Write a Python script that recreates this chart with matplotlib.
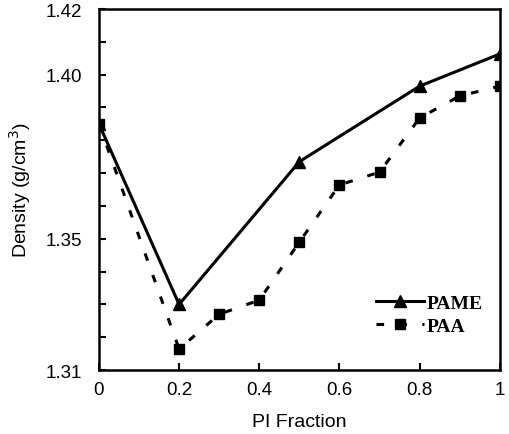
import matplotlib
matplotlib.use("Agg")
import matplotlib.pyplot as plt
from matplotlib.ticker import FixedLocator, FuncFormatter

# PI fraction vs. density, two polymer series
pi_frac_pame = [0.0, 0.2, 0.5, 0.8, 1.0]
dens_pame = [1.385, 1.330, 1.3735, 1.3965, 1.4063]

pi_frac_paa = [0.0, 0.2, 0.3, 0.4, 0.5, 0.6, 0.7, 0.8, 0.9, 1.0]
dens_paa = [1.385, 1.3164, 1.327, 1.3313, 1.349, 1.3664, 1.3703, 1.3868, 1.3935, 1.3965]

x_ticks = [0, 0.2, 0.4, 0.6, 0.8, 1.0]
x_ticklabels = ["0", "0.2", "0.4", "0.6", "0.8", "1"]
y_labelled = {1.31: "1.31", 1.35: "1.35", 1.40: "1.40", 1.42: "1.42"}

plt.rcParams.update({
    "font.family": "Liberation Sans", "font.size": 13.5,
})
fig = plt.figure(figsize=(5.1, 4.35), dpi=100)
ax = fig.add_axes([0.194, 0.147, 0.786, 0.830])

ax.plot(pi_frac_pame, dens_pame, color="black", lw=2.2, marker="^",
        markersize=9, label="PAME")
ax.plot(pi_frac_paa, dens_paa, color="black", lw=2.2, ls=(0, (2.5, 5)),
        marker="s", markersize=7, label="PAA")

ax.set_xlim(0, 1)
ax.set_ylim(1.31, 1.42)
ax.set_xticks(x_ticks)
ax.set_xticklabels(x_ticklabels)
yt = [round(1.31 + 0.01 * i, 2) for i in range(12)]
ax.yaxis.set_major_locator(FixedLocator(yt))
ax.yaxis.set_major_formatter(FuncFormatter(lambda v, p: y_labelled.get(round(v, 2), "")))
ax.tick_params(direction="in", length=5, width=1.5, pad=8)
ax.tick_params(axis="y", pad=12)
for s in ax.spines.values():
    s.set_linewidth(1.8)

ax.set_xlabel("PI Fraction", labelpad=11, fontsize=14)
ax.set_ylabel("Density (g/cm$^3$)", labelpad=9, fontsize=14)

leg = ax.legend(loc="lower right", bbox_to_anchor=(1.0, 0.05), frameon=False,
                handlelength=2.5, handletextpad=0.1, labelspacing=0.25,
                prop={"family": "Liberation Serif", "weight": "bold", "size": 14})

fig.savefig("out.png", dpi=100)
